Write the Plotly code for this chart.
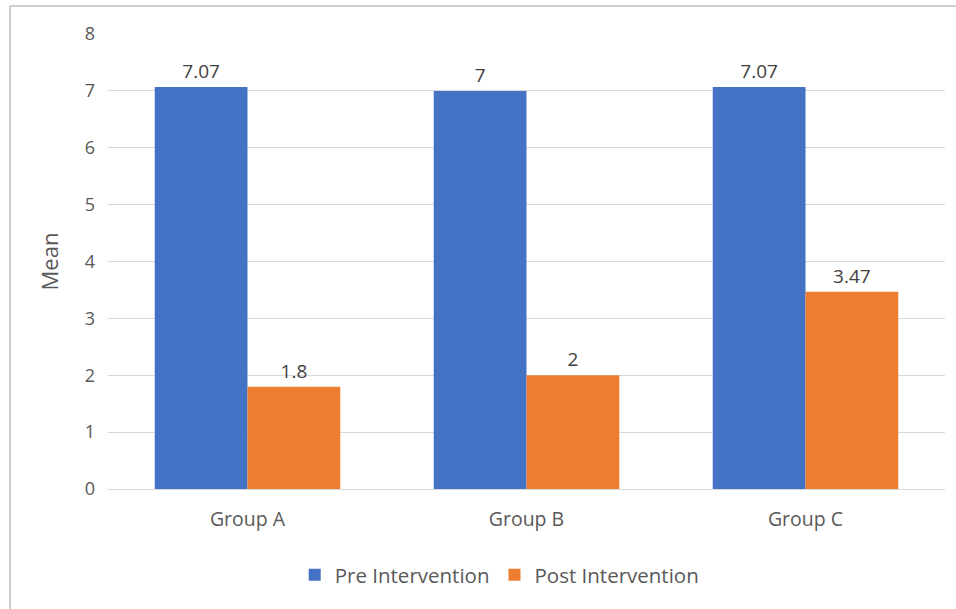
import plotly.graph_objects as go

groups = ["Group A", "Group B", "Group C"]
pre_values = [7.07, 7, 7.07]
post_values = [1.8, 2, 3.47]
series_names = ["Pre Intervention", "Post Intervention"]
y_ticks = [0, 1, 2, 3, 4, 5, 6, 7, 8]

BLUE = "#4472C4"
ORANGE = "#ED7D31"
TEXT = "#595959"
FONT = "Open Sans"

fig = go.Figure()
for name, vals, color in [(series_names[0], pre_values, BLUE),
                          (series_names[1], post_values, ORANGE)]:
    fig.add_trace(go.Bar(
        x=groups, y=vals, name=name,
        marker=dict(color=color, line=dict(width=0)),
        text=[f"{v:g}" for v in vals], textposition="outside",
        textfont=dict(family=FONT, size=19, color="#404040"),
        cliponaxis=False,
    ))

fig.update_layout(
    width=956, height=609,
    margin=dict(l=108, r=11, t=34, b=120, autoexpand=False),
    paper_bgcolor="white", plot_bgcolor="white",
    barmode="group", bargap=0.335, bargroupgap=0,
    font=dict(family=FONT, color=TEXT, size=17),
    showlegend=True,
    legend=dict(orientation="h", x=0.468, xanchor="center", y=-0.145, yanchor="top",
                font=dict(family=FONT, size=20.5, color=TEXT),
                itemwidth=30, traceorder="normal"),
    xaxis=dict(showline=False, ticks="", tickfont=dict(size=19.5, color=TEXT),
               ticklabelstandoff=16),
    yaxis=dict(range=[0, 8], tickvals=y_ticks, showgrid=True, gridcolor="#D9D9D9",
               gridwidth=1, zeroline=True, zerolinecolor="#D9D9D9", zerolinewidth=1,
               tickfont=dict(size=18, color=TEXT), ticklabelstandoff=12,
               title=dict(text="Mean", font=dict(size=22, color=TEXT), standoff=20)),
)

# chart frame (top and left edges)
frame_color = "#BFBFBF"
fig.add_shape(type="line", xref="paper", yref="paper",
              x0=-0.117, x1=1.02, y0=1.0615, y1=1.0615,
              line=dict(color=frame_color, width=1.5))
fig.add_shape(type="line", xref="paper", yref="paper",
              x0=-0.117, x1=-0.117, y0=1.0615, y1=-0.27,
              line=dict(color=frame_color, width=1.5))

fig.write_html("out.html")
